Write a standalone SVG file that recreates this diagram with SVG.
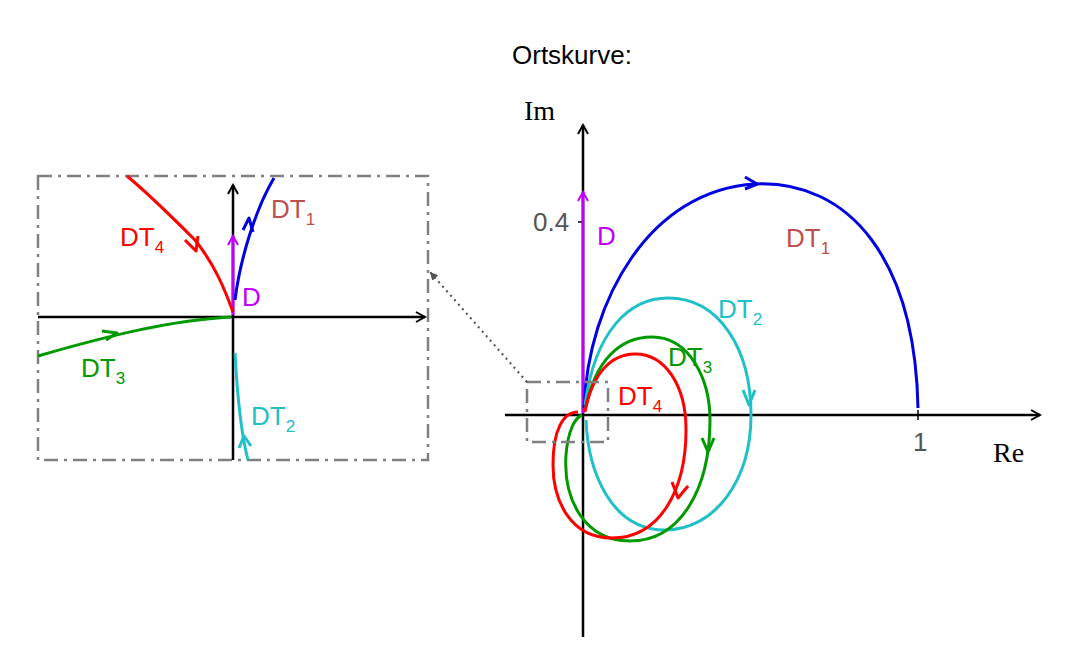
<svg xmlns="http://www.w3.org/2000/svg" width="1066" height="648" viewBox="0 0 1066 648">
<defs>
<marker id="ak" markerWidth="12" markerHeight="12" refX="10" refY="6" orient="auto" markerUnits="userSpaceOnUse"><path d="M1,1 L10,6 L1,11" fill="none" stroke="#000" stroke-width="2"/></marker>
<marker id="am" markerWidth="12" markerHeight="12" refX="10" refY="6" orient="auto" markerUnits="userSpaceOnUse"><path d="M1,1 L10,6 L1,11" fill="none" stroke="#c000ff" stroke-width="2"/></marker>
<marker id="ag" markerWidth="10" markerHeight="10" refX="8" refY="5" orient="auto" markerUnits="userSpaceOnUse"><path d="M0,1 L8,5 L0,9 Z" fill="#555"/></marker>
</defs>
<style>
text{font-family:"Liberation Sans",Arial,sans-serif;font-size:26px}
.ser{font-family:"Liberation Serif","Times New Roman",serif;font-size:28px}
.ax{stroke:#000;stroke-width:2.5;fill:none}
.c{fill:none;stroke-width:3;stroke-linejoin:round}
.b{stroke:#0000e0}.cy{stroke:#20c0c8}.g{stroke:#009900}.r{stroke:#ff0000}.m{stroke:#c000ff}
.box{fill:none;stroke:#808080;stroke-width:2.5;stroke-dasharray:14 6 3 6}
</style>
<rect width="1066" height="648" fill="#fff"/>
<text x="512" y="64">Ortskurve:</text>
<g id="main">
<line class="ax" x1="505" y1="415" x2="1040" y2="415" marker-end="url(#ak)"/>
<line class="ax" x1="583" y1="637" x2="583" y2="125" marker-end="url(#ak)"/>
<line x1="578" y1="222" x2="583" y2="222" stroke="#000" stroke-width="1.5"/>
<line x1="918" y1="410" x2="918" y2="420" stroke="#000" stroke-width="1.5"/>
<text x="533" y="231" fill="#555">0.4</text>
<text x="913" y="451" fill="#555">1</text>
<text class="ser" x="524" y="120">Im</text>
<text class="ser" x="993" y="462">Re</text>
<line class="c m" x1="583" y1="413" x2="583" y2="192" marker-end="url(#am)"/>
<text x="597" y="245" fill="#c000ff">D</text>
<path class="c b" d="M584,408 C588,300 650,190 755,184 C850,180 915,260 918,408"/>
<path class="c b" d="M745,177 L757,184 L745,189"/>
<path class="c cy" d="M585,405 C595,330 630,298 668,298 C720,298 751,350 751,415 C751,480 715,530 665,530 C610,530 588,470 586,420"/>
<path class="c cy" d="M743,390 L749,405 L755,390"/>
<path class="c g" d="M585,410 C595,360 620,337 652,337 C690,337 710,380 710,420 C710,490 680,541 630,541 C585,541 563,500 566,455 C568,430 575,418 582,415"/>
<path class="c g" d="M702,438 L708,452 L714,438"/>
<path class="c r" d="M585,412 C592,375 610,354 635,354 C665,354 686,385 686,430 C686,490 660,538 612,538 C570,538 553,500 553,465 C553,430 563,412 578,412"/>
<path class="c r" d="M672,482 L678,498 L688,486"/>
<text x="786" y="247" fill="#c0504d">DT<tspan font-size="17" dy="7">1</tspan></text>
<text x="718" y="318" fill="#20c0c8">DT<tspan font-size="17" dy="7">2</tspan></text>
<text x="668" y="366" fill="#009900">DT<tspan font-size="17" dy="7">3</tspan></text>
<text x="618" y="405" fill="#ff0000">DT<tspan font-size="17" dy="7">4</tspan></text>
<rect class="box" x="527" y="382" width="81" height="60"/>
<line x1="527" y1="382" x2="430" y2="272" stroke="#555" stroke-width="2" stroke-dasharray="2 4" marker-end="url(#ag)"/>
</g>
<g id="inset">
<rect class="box" x="38" y="176" width="390" height="284"/>
<line class="ax" x1="38" y1="317" x2="425" y2="317" marker-end="url(#ak)"/>
<line class="ax" x1="233" y1="460" x2="233" y2="185" marker-end="url(#ak)"/>
<line class="c m" x1="233" y1="315" x2="233" y2="236" marker-end="url(#am)"/>
<text x="242" y="306" fill="#c000ff">D</text>
<path class="c b" d="M235,300 C240,260 255,210 274,178"/>
<path class="c b" d="M243,230 L249,218 L253,232"/>
<path class="c r" d="M233,312 C225,290 215,265 195,240 C170,215 150,195 127,176"/>
<path class="c r" d="M185,240 L196,251 L198,236"/>
<path class="c g" d="M38,356 C100,338 170,320 231,317"/>
<path class="c g" d="M102,331 L117,333 L106,340"/>
<path class="c cy" d="M235,353 C237,390 240,430 248,460"/>
<path class="c cy" d="M239,448 L244,436 L251,446"/>
<text x="271" y="218" fill="#c0504d">DT<tspan font-size="17" dy="7">1</tspan></text>
<text x="251" y="425" fill="#20c0c8">DT<tspan font-size="17" dy="7">2</tspan></text>
<text x="81" y="377" fill="#009900">DT<tspan font-size="17" dy="7">3</tspan></text>
<text x="120" y="246" fill="#ff0000">DT<tspan font-size="17" dy="7">4</tspan></text>
</g>
</svg>
